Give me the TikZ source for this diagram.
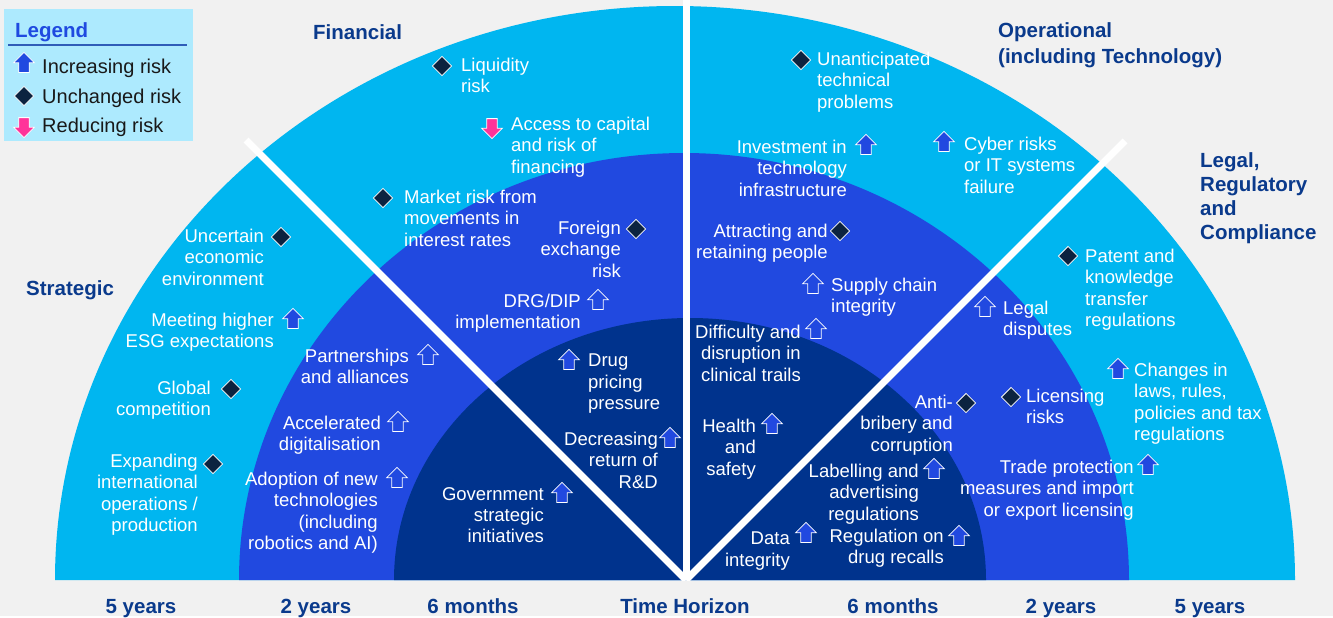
\documentclass[tikz,border=0pt]{standalone}
\usepackage{fontspec}
\setmainfont{Liberation Sans}
\usetikzlibrary{shapes.geometric,shapes.arrows}

\definecolor{bgrey}{HTML}{F1F1F1}
\definecolor{ringouter}{HTML}{00B6F0}
\definecolor{ringmid}{HTML}{2149E0}
\definecolor{ringinner}{HTML}{00338D}
\definecolor{headnavy}{HTML}{0A3A8C}
\definecolor{keyfill}{HTML}{ADEAFE}
\definecolor{keyblue}{HTML}{1F4AE0}
\definecolor{keyline}{HTML}{2F5DB8}
\definecolor{flatnavy}{HTML}{0C2340}
\definecolor{downpink}{HTML}{FF3399}

\begin{document}
\begin{tikzpicture}[x=1pt,y=-1pt,
  risk/.style={text=white,font=\fontsize{18.5}{21.3}\selectfont,inner sep=0pt,
    execute at begin node=\strut},
  riskl/.style={risk,align=left,anchor=north west},
  riskr/.style={risk,align=right,anchor=north east},
  heading/.style={text=headnavy,font=\bfseries\fontsize{20.5}{24.3}\selectfont,
    inner sep=0pt,align=left,anchor=north west,execute at begin node=\strut},
  horizon/.style={text=headnavy,font=\bfseries\fontsize{20.5}{24}\selectfont,
    inner sep=0pt,anchor=base},
  keytext/.style={text=black!90,font=\fontsize{20}{24}\selectfont,inner sep=0pt,
    anchor=base west},
  riskup/.style={single arrow,shape border rotate=90,fill=ringmid,draw=white,
    line width=0.8pt,inner sep=4.8pt,minimum height=20pt,
    single arrow head extend=5.2pt},
  riskdown/.style={riskup,shape border rotate=270,fill=downpink},
  riskflat/.style={diamond,fill=flatnavy,draw=white,line width=0.8pt,
    inner sep=0pt,minimum size=19.5pt},
  divider/.style={white,line width=7pt}]

% page and the three time bands
\fill[bgrey] (0,0) rectangle (1333,616);
\fill[ringouter] (55,580) arc[start angle=180,end angle=0,x radius=620pt,y radius=574pt] -- cycle;
\fill[ringmid] (239,580) arc[start angle=180,end angle=0,x radius=445pt,y radius=427pt] -- cycle;
\fill[ringinner] (394,580) arc[start angle=180,end angle=0,x radius=296pt,y radius=262pt] -- cycle;

% sector dividers
\begin{scope}
  \clip (0,0) rectangle (1333,580);
  \draw[divider] (686,0) -- (686,580);
  \draw[divider] (246,140) -- (686,580);
  \draw[divider] (1125,141) -- (686,580);
\end{scope}

% sector headings
\node[heading] (fin) at (313,22) {Financial};
\node[heading] (ops) at (998,22) {Operational\\[2pt](including Technology)};
\node[heading] (legal) at (1200,152) {Legal,\\Regulatory\\and\\Compliance};
\node[heading] (strat) at (26,278) {Strategic};

% strategic
\node[riskr] (unc) at (264,229) {Uncertain\\economic\\environment};
\node[riskflat] (unc-m) at ([shift={(17,8)}]unc.north east) {};
\node[riskr] (esg) at (274,313) {Meeting higher\\ESG expectations};
\node[riskup] (esg-m) at ([shift={(19,8)}]esg.north east) {};
\node[riskr] (glob) at (211,381) {Global\\competition};
\node[riskflat] (glob-m) at ([shift={(20,8)}]glob.north east) {};
\node[riskr] (expand) at (198,454) {Expanding\\international\\operations /\\production};
\node[riskflat] (expand-m) at ([shift={(15,10)}]expand.north east) {};
\node[riskr] (partner) at (409,349) {Partnerships\\and alliances};
\node[riskup] (partner-m) at ([shift={(19,8)}]partner.north east) {};
\node[riskr] (digital) at (381,416) {Accelerated\\digitalisation};
\node[riskup] (digital-m) at ([shift={(17,8)}]digital.north east) {};
\node[riskr] (adopt) at (378,472) {Adoption of new\\technologies\\(including\\robotics and AI)};
\node[riskup] (adopt-m) at ([shift={(19,8)}]adopt.north east) {};
\node[riskr] (govt) at (544,487) {Government\\strategic\\initiatives};
\node[riskup] (govt-m) at ([shift={(18,8)}]govt.north east) {};

% financial
\node[riskl] (liq) at (461,58) {Liquidity\\risk};
\node[riskflat] (liq-m) at ([shift={(-19,8)}]liq.north west) {};
\node[riskl] (capital) at (511,117) {Access to capital\\and risk of\\financing};
\node[riskdown] (capital-m) at ([shift={(-19,9)}]capital.north west) {};
\node[riskl] (market) at (404,190) {Market risk from\\movements in\\interest rates};
\node[riskflat] (market-m) at ([shift={(-21,8)}]market.north west) {};
\node[riskr] (fx) at (621,221) {Foreign\\exchange\\risk};
\node[riskflat] (fx-m) at ([shift={(15,8)}]fx.north east) {};
\node[riskr] (drg) at (581,294) {DRG/DIP\\implementation};
\node[riskup] (drg-m) at ([shift={(17,8)}]drg.north east) {};
\node[riskl] (drug) at (588,354) {Drug\\pricing\\pressure};
\node[riskup] (drug-m) at ([shift={(-19,8)}]drug.north west) {};
\node[riskr] (rnd) at (658,432) {Decreasing\\return of\\R\&D};
\node[riskup] (rnd-m) at ([shift={(12,8)}]rnd.north east) {};

% operational
\node[riskl] (tech) at (817,52) {Unanticipated\\technical\\problems};
\node[riskflat] (tech-m) at ([shift={(-16,8)}]tech.north west) {};
\node[riskr] (invest) at (847,140) {Investment in\\technology\\infrastructure};
\node[riskup] (invest-m) at ([shift={(19,7)}]invest.north east) {};
\node[riskl] (cyber) at (964,137) {Cyber risks\\or IT systems\\failure};
\node[riskup] (cyber-m) at ([shift={(-20,7)}]cyber.north west) {};
\node[riskr] (people) at (828,224) {Attracting and\\retaining people};
\node[riskflat] (people-m) at ([shift={(12,7)}]people.north east) {};
\node[riskl] (supply) at (831,278) {Supply chain\\integrity};
\node[riskup] (supply-m) at ([shift={(-18,8)}]supply.north west) {};
\node[riskr] (trials) at (801,325) {Difficulty and\\disruption in\\clinical trails};
\node[riskup] (trials-m) at ([shift={(15,6)}]trials.north east) {};
\node[riskr] (health) at (756,419) {Health\\and\\safety};
\node[riskup] (health-m) at ([shift={(16,7)}]health.north east) {};

% legal, regulatory and compliance
\node[riskr] (data) at (790,532) {Data\\integrity};
\node[riskup] (data-m) at ([shift={(16,3)}]data.north east) {};
\node[riskr] (bribe) at (953,395) {Anti-\\bribery and\\corruption};
\node[riskflat] (bribe-m) at ([shift={(13,8)}]bribe.north east) {};
\node[riskr] (label) at (919,464) {Labelling and\\advertising\\regulations};
\node[riskup] (label-m) at ([shift={(15,7)}]label.north east) {};
\node[riskr] (recall) at (944,529) {Regulation on\\drug recalls};
\node[riskup] (recall-m) at ([shift={(15,9)}]recall.north east) {};
\node[riskl] (dispute) at (1003,301) {Legal\\disputes};
\node[riskup] (dispute-m) at ([shift={(-18,8)}]dispute.north west) {};
\node[riskl] (licence) at (1026,389) {Licensing\\risks};
\node[riskflat] (licence-m) at ([shift={(-15,8)}]licence.north west) {};
\node[riskr] (trade) at (1134,460) {Trade protection\\measures and import\\or export licensing};
\node[riskup] (trade-m) at ([shift={(14,7)}]trade.north east) {};
\node[riskl] (patent) at (1085,249) {Patent and\\knowledge\\transfer\\regulations};
\node[riskflat] (patent-m) at ([shift={(-17,7)}]patent.north west) {};
\node[riskl] (laws) at (1134,363) {Changes in\\laws, rules,\\policies and tax\\regulations};
\node[riskup] (laws-m) at ([shift={(-16,8)}]laws.north west) {};

% time axis
\node[horizon] (h1) at (141,613) {5 years};
\node[horizon] (h2) at (316,613) {2 years};
\node[horizon] (h3) at (473,613) {6 months};
\node[horizon] (h0) at (685,613) {Time Horizon};
\node[horizon] (h4) at (893,613) {6 months};
\node[horizon] (h5) at (1061,613) {2 years};
\node[horizon] (h6) at (1210,613) {5 years};

% key
\fill[keyfill] (4,9) rectangle (193,141);
\node[anchor=base west,text=keyblue,font=\bfseries\fontsize{20.5}{24}\selectfont,
  inner sep=0pt] (key) at (15,37) {Legend};
\draw[keyline,line width=1.5pt] (8,45) -- (187,45);
\node[riskup] (key-up) at (24,65) {};
\node[keytext] (key-up-t) at (42,73) {Increasing risk};
\node[riskflat] (key-flat) at (24,96) {};
\node[keytext] (key-flat-t) at (42,103) {Unchanged risk};
\node[riskdown] (key-down) at (24,125) {};
\node[keytext] (key-down-t) at (42,132) {Reducing risk};
\end{tikzpicture}
\end{document}
